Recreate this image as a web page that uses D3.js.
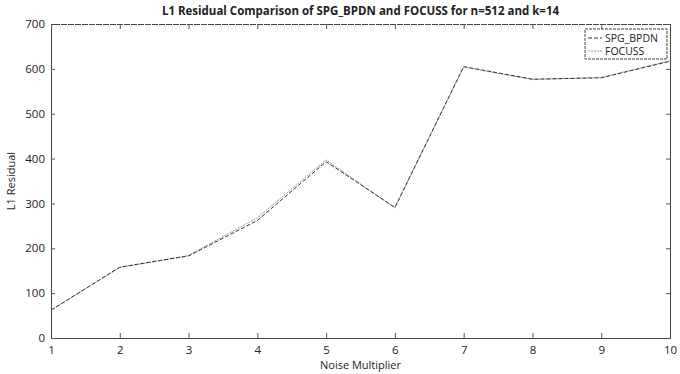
<!DOCTYPE html>
<html>
<head>
<meta charset="utf-8">
<script src="https://cdn.jsdelivr.net/npm/d3@7"></script>
<style>
  body { margin: 0; background: #fff; }
  text { font-family: "Open Sans", "DejaVu Sans", sans-serif; fill: #222; }
</style>
</head>
<body>
<div id="chart"></div>
<script>
// noise multipliers and the two residual series
const noise = [1, 2, 3, 4, 5, 6, 7, 8, 9, 10];
const spgBpdn = [62, 158, 183, 262, 393, 291, 605, 577, 580, 617];
const focuss = [62, 157, 184, 268, 397, 290, 604, 576, 581, 618];
const yTicks = [0, 100, 200, 300, 400, 500, 600, 700];
const seriesNames = ['SPG_BPDN', 'FOCUSS'];

const W = 680, H = 374;
const margin = {top: 24, right: 10, bottom: 36, left: 51};
const w = W - margin.left - margin.right;
const h = H - margin.top - margin.bottom;

const svg = d3.select('#chart').append('svg')
  .attr('width', W).attr('height', H);

const g = svg.append('g')
  .attr('transform', `translate(${margin.left},${margin.top})`);

const x = d3.scaleLinear().domain([1, 10]).range([0, w]);
const y = d3.scaleLinear().domain([0, 700]).range([h, 0]);

// axes (ticks pointing inward, matlab style)
const xAxis = g.append('g').attr('transform', `translate(0,${h})`)
  .call(d3.axisBottom(x).tickValues(noise).tickSize(-5).tickPadding(8).tickFormat(d3.format('d')));
const yAxis = g.append('g')
  .call(d3.axisLeft(y).tickValues(yTicks).tickSize(-4).tickPadding(6));
const xTop = g.append('g')
  .call(d3.axisTop(x).tickValues(noise).tickSize(-5).tickFormat(''));
const yRight = g.append('g').attr('transform', `translate(${w},0)`)
  .call(d3.axisRight(y).tickValues(yTicks).tickSize(-4).tickFormat(''));

[xAxis, yAxis, xTop, yRight].forEach(a => {
  a.select('.domain').attr('stroke', '#444').attr('stroke-width', 1);
  a.selectAll('.tick line').attr('stroke', '#555');
  a.selectAll('.tick text').attr('font-size', 11.5).attr('fill', '#222');
});
xTop.select('.domain').attr('stroke-dasharray', '6,1');

// lines
const line = d3.line()
  .x((d, i) => x(noise[i]))
  .y(d => y(d));

g.append('path')
  .attr('d', line(focuss))
  .attr('fill', 'none')
  .attr('stroke', '#999')
  .attr('stroke-width', 1)
  .attr('stroke-dasharray', '2,1');

g.append('path')
  .attr('d', line(spgBpdn))
  .attr('fill', 'none')
  .attr('stroke', '#333')
  .attr('stroke-width', 1)
  .attr('stroke-dasharray', '4,2');

// legend
const leg = g.append('g').attr('transform', `translate(${w - 85},5)`);
leg.append('rect')
  .attr('width', 82).attr('height', 30)
  .attr('fill', '#fff').attr('stroke', '#444').attr('stroke-dasharray', '3,1');
const legStyles = [{c: '#333', d: '4,2'}, {c: '#999', d: '2,1'}];
seriesNames.forEach((name, i) => {
  const ly = 9 + i * 13;
  leg.append('line')
    .attr('x1', 3).attr('x2', 17).attr('y1', ly).attr('y2', ly)
    .attr('stroke', legStyles[i].c).attr('stroke-dasharray', legStyles[i].d);
  leg.append('text')
    .attr('x', 20).attr('y', ly + 4)
    .attr('font-size', 10.5)
    .text(name);
});

// title and labels
svg.append('text')
  .attr('x', margin.left + w / 2).attr('y', 15)
  .attr('text-anchor', 'middle')
  .attr('font-size', 11.5).attr('font-weight', 'bold')
  .text('L1 Residual Comparison of SPG_BPDN and FOCUSS for n=512 and k=14');

svg.append('text')
  .attr('x', margin.left + w / 2).attr('y', 369)
  .attr('text-anchor', 'middle')
  .attr('font-size', 11)
  .text('Noise Multiplier');

svg.append('text')
  .attr('transform', `translate(15,${margin.top + h / 2}) rotate(-90)`)
  .attr('text-anchor', 'middle')
  .attr('font-size', 11)
  .text('L1 Residual');
</script>
</body>
</html>
